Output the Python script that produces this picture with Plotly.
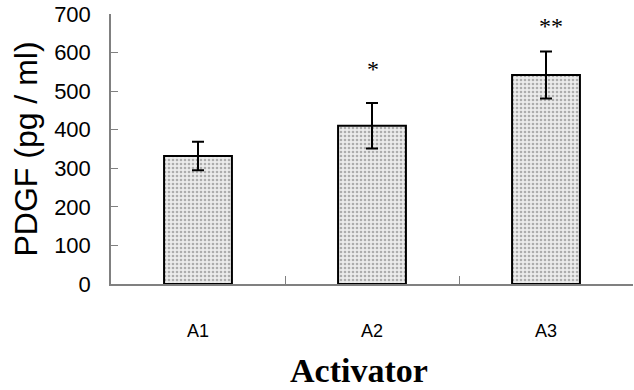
import plotly.graph_objects as go

categories = ["A1", "A2", "A3"]
values = [332, 410, 542]
errors = [37, 59, 61]
significance = ["", "*", "**"]
y_ticks = [0, 100, 200, 300, 400, 500, 600, 700]

fig = go.Figure()
fig.add_trace(go.Bar(
    x=categories, y=values,
    width=0.39,
    marker=dict(
        color="white",
        line=dict(color="black", width=2),
        pattern=dict(shape=".", fgcolor="#6e6e6e", bgcolor="#ececec", size=4, solidity=0.35),
    ),
    error_y=dict(type="data", array=errors, visible=True, color="black", thickness=2, width=6),
    showlegend=False,
))

star_y = [None, 557, 669]
star_shift = [0, 1, 5]
for c, s, yy, sh in zip(categories, significance, star_y, star_shift):
    if s:
        fig.add_annotation(x=c, y=yy, xref="x", yref="y", text=s, showarrow=False,
                           xshift=sh, font=dict(family="Liberation Serif", size=24, color="black"))

fig.add_annotation(x=0.475, y=-0.322, xref="paper", yref="paper", text="<b>Activator</b>",
                   showarrow=False, yanchor="middle",
                   font=dict(family="Liberation Serif", size=34, color="black"))

fig.update_layout(
    width=634, height=390,
    margin=dict(l=111, r=1, t=14, b=106),
    plot_bgcolor="white", paper_bgcolor="white",
    font=dict(family="Liberation Sans", color="black"),
)
fig.update_xaxes(
    automargin=False,
    showline=True, linecolor="#808080", linewidth=1.5,
    ticks="inside", tickcolor="#808080", ticklen=8, tickwidth=1,
    tickson="boundaries",
    tickfont=dict(size=18, family="Liberation Sans"),
    ticklabelstandoff=30,
    showgrid=False, zeroline=False,
)
fig.update_yaxes(
    automargin=False,
    range=[0, 700], tickvals=y_ticks,
    showline=True, linecolor="#808080", linewidth=1.5,
    ticks="inside", tickcolor="#808080", ticklen=7, tickwidth=1,
    tickfont=dict(size=22, family="Liberation Sans"),
    ticklabelstandoff=14,
    showgrid=False, zeroline=False,
    title=dict(text="PDGF (pg / ml)", font=dict(size=32, family="Liberation Sans"), standoff=7),
)

fig.write_html("out.html", config={"displayModeBar": False},
               post_script="document.body.style.margin='0px';")
